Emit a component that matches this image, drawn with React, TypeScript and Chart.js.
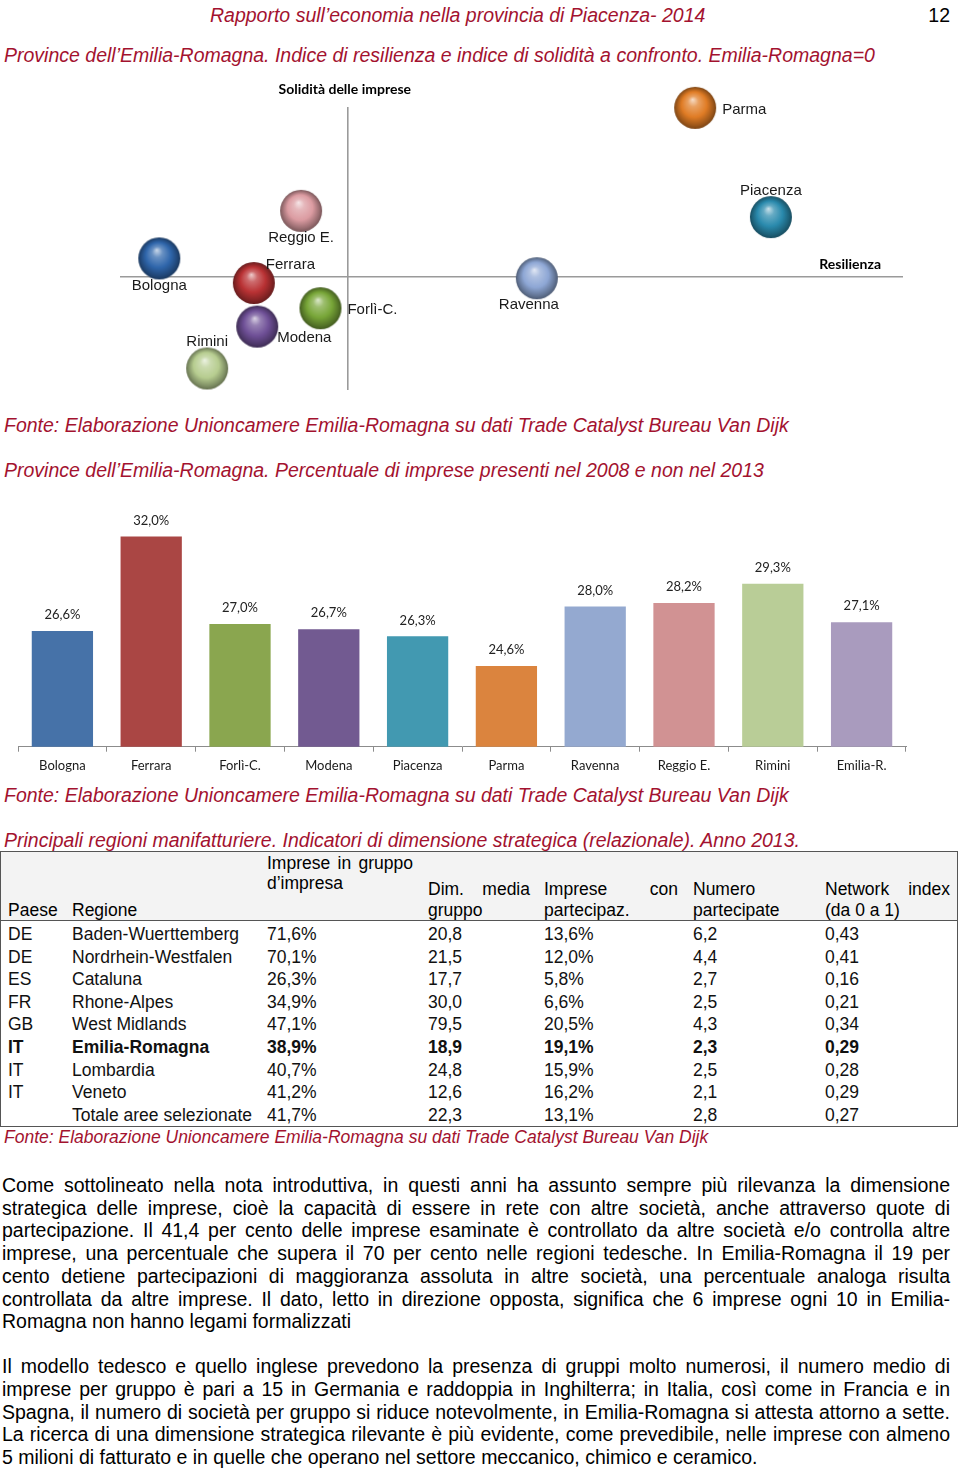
import React, { useEffect, useRef } from 'react';
import { Chart, registerables } from 'chart.js';

Chart.register(...registerables);

// ---------- Scatter (bubble) chart data ----------
const provinces = ['Bologna', 'Reggio E.', 'Ferrara', 'Forlì-C.', 'Modena', 'Rimini', 'Ravenna', 'Parma', 'Piacenza'];
const resilienza = [-3.31, -0.82, -1.65, -0.48, -1.59, -2.47, 3.32, 6.1, 7.43];
const solidita = [0.65, 2.33, -0.22, -1.11, -1.76, -3.24, -0.05, 5.97, 2.11];
const sphereColors = ['#2f66ab', '#dc9ca2', '#b93234', '#78a638', '#6f5097', '#b7cd90', '#8ea7d5', '#e07c25', '#2a8aad'];
const labelPlacement = ['below', 'below', 'above-right', 'right', 'below-right', 'above', 'below', 'right', 'above'];

// ---------- Bar chart data ----------
const barCategories = ['Bologna', 'Ferrara', 'Forlì-C.', 'Modena', 'Piacenza', 'Parma', 'Ravenna', 'Reggio E.', 'Rimini', 'Emilia-R.'];
const barValues = [26.6, 32.0, 27.0, 26.7, 26.3, 24.6, 28.0, 28.2, 29.3, 27.1];
const barColors = ['#4672a8', '#aa4644', '#8aa64f', '#725a91', '#4299b1', '#db843e', '#94a9d0', '#d19293', '#b9cd97', '#a99bbe'];

// ---------- Table data ----------
const tablePaese = ['DE', 'DE', 'ES', 'FR', 'GB', 'IT', 'IT', 'IT', ''];
const tableRegione = ['Baden-Wuerttemberg', 'Nordrhein-Westfalen', 'Cataluna', 'Rhone-Alpes', 'West Midlands', 'Emilia-Romagna', 'Lombardia', 'Veneto', 'Totale aree selezionate'];
const tableGruppo = ['71,6%', '70,1%', '26,3%', '34,9%', '47,1%', '38,9%', '40,7%', '41,2%', '41,7%'];
const tableDim = ['20,8', '21,5', '17,7', '30,0', '79,5', '18,9', '24,8', '12,6', '22,3'];
const tablePartecipaz = ['13,6%', '12,0%', '5,8%', '6,6%', '20,5%', '19,1%', '15,9%', '16,2%', '13,1%'];
const tableNumero = ['6,2', '4,4', '2,7', '2,5', '4,3', '2,3', '2,5', '2,1', '2,8'];
const tableNetwork = ['0,43', '0,41', '0,16', '0,21', '0,34', '0,29', '0,28', '0,29', '0,27'];
const boldRow = 5;

// ---------- Text ----------
const para1 = [
  'Come sottolineato nella nota introduttiva, in questi anni ha assunto sempre più rilevanza la dimensione',
  'strategica delle imprese, cioè la capacità di essere in rete con altre società, anche attraverso quote di',
  'partecipazione. Il 41,4 per cento delle imprese esaminate è controllato da altre società e/o controlla altre',
  'imprese, una percentuale che supera il 70 per cento nelle regioni tedesche. In Emilia-Romagna il 19 per',
  'cento detiene partecipazioni di maggioranza assoluta in altre società, una percentuale analoga risulta',
  'controllata da altre imprese. Il dato, letto in direzione opposta, significa che 6 imprese ogni 10 in Emilia-',
  'Romagna non hanno legami formalizzati',
];
const para2 = [
  'Il modello tedesco e quello inglese prevedono la presenza di gruppi molto numerosi, il numero medio di',
  'imprese per gruppo è pari a 15 in Germania e raddoppia in Inghilterra; in Italia, così come in Francia e in',
  'Spagna, il numero di società per gruppo si riduce notevolmente, in Emilia-Romagna si attesta attorno a sette.',
  'La ricerca di una dimensione strategica rilevante è più evidente, come prevedibile, nelle imprese con almeno',
  '5 milioni di fatturato e in quelle che operano nel settore meccanico, chimico e ceramico.',
];

const RED = '#a3122f';
const SANS = '"Liberation Sans", Arial, Helvetica, sans-serif';
const CAL = 'Lato, "Open Sans", sans-serif';

function shade(hex: string, f: number): string {
  const n = parseInt(hex.slice(1), 16);
  let r = (n >> 16) & 255, g = (n >> 8) & 255, b = n & 255;
  if (f >= 0) {
    r = r + (255 - r) * f; g = g + (255 - g) * f; b = b + (255 - b) * f;
  } else {
    r = r * (1 + f); g = g * (1 + f); b = b * (1 + f);
  }
  return `rgb(${Math.round(r)},${Math.round(g)},${Math.round(b)})`;
}

function makeSphere(color: string, r: number): HTMLCanvasElement {
  const c = document.createElement('canvas');
  const size = Math.ceil(r * 2 + 2);
  c.width = size; c.height = size;
  const ctx = c.getContext('2d')!;
  const cx = size / 2, cy = size / 2;
  const g = ctx.createRadialGradient(cx - 0.12 * r, cy - 0.4 * r, 0, cx, cy, r);
  g.addColorStop(0, shade(color, 0.75));
  g.addColorStop(0.25, shade(color, 0.28));
  g.addColorStop(0.6, color);
  g.addColorStop(0.88, shade(color, -0.3));
  g.addColorStop(1, shade(color, -0.45));
  ctx.fillStyle = g;
  ctx.beginPath();
  ctx.arc(cx, cy, r, 0, Math.PI * 2);
  ctx.fill();
  return c;
}

type TP = {
  x: number; y: number; w?: number; size?: number; italic?: boolean; bold?: boolean;
  color?: string; align?: 'left' | 'center' | 'right'; justify?: boolean; lh?: number; children: React.ReactNode;
};
const T = ({ x, y, w, size = 19.5, italic, bold, color = '#000', align = 'left', justify, lh = 22, children }: TP) => (
  <div
    style={{
      position: 'absolute', left: x, top: y - lh / 2, width: w, height: lh, lineHeight: lh + 'px',
      fontSize: size, fontFamily: SANS, fontStyle: italic ? 'italic' : 'normal', fontWeight: bold ? 'bold' : 'normal',
      color, whiteSpace: 'nowrap', textAlign: justify ? 'justify' : align,
      textAlignLast: justify ? 'justify' : undefined,
    } as React.CSSProperties}
  >
    {children}
  </div>
);

function ScatterChart() {
  const ref = useRef<HTMLCanvasElement>(null);
  useEffect(() => {
    const spheres = sphereColors.map((c) => makeSphere(c, 21));
    const labelsPlugin = {
      id: 'sphereLabels',
      afterDatasetsDraw(chart: any) {
        const ctx = chart.ctx;
        const meta = chart.getDatasetMeta(0);
        ctx.save();
        ctx.font = `15px ${SANS}`;
        ctx.fillStyle = '#1a1a1a';
        ctx.textBaseline = 'middle';
        meta.data.forEach((pt: any, i: number) => {
          let dx = 0, dy = 0, align: CanvasTextAlign = 'center';
          switch (labelPlacement[i]) {
            case 'below': dy = 27; break;
            case 'above': dy = -26.5; break;
            case 'right': dx = 27; dy = 2; align = 'left'; break;
            case 'above-right': dx = 12; dy = -18; align = 'left'; break;
            case 'below-right': dx = 20; dy = 11; align = 'left'; break;
          }
          if (provinces[i] === 'Ravenna') dx = -8;
          ctx.textAlign = align;
          ctx.fillText(provinces[i], pt.x + dx, pt.y + dy);
        });
        const xs = chart.scales.x, ys = chart.scales.y;
        ctx.fillStyle = '#000';
        ctx.font = `bold 14px ${CAL}`;
        ctx.textAlign = 'center';
        ctx.fillText('Solidità delle imprese', xs.getPixelForValue(0) - 3, ys.top - 18);
        ctx.textAlign = 'right';
        ctx.fillText('Resilienza', xs.right - 22, ys.getPixelForValue(0) - 12);
        ctx.restore();
      },
    };
    const zeroLine = (c: any) => (c.tick && c.tick.value === 0 ? '#9a9a9a' : 'rgba(0,0,0,0)');
    const chart = new Chart(ref.current!, {
      type: 'scatter',
      data: {
        datasets: [{
          data: provinces.map((_, i) => ({ x: resilienza[i], y: solidita[i] })),
          pointStyle: spheres as any,
          pointRadius: 21,
          clip: false as any,
        }],
      },
      options: {
        animation: false,
        responsive: false,
        layout: { autoPadding: false, padding: { left: 120, right: 57, top: 37, bottom: 10 } },
        plugins: { legend: { display: false }, tooltip: { enabled: false } },
        scales: {
          x: {
            type: 'linear', min: -4, max: 9.75,
            ticks: { display: false, stepSize: 1 },
            grid: { drawTicks: false, color: zeroLine, lineWidth: 1.6 },
            border: { display: false },
            afterFit: (s: any) => { s.height = 0; },
          },
          y: {
            type: 'linear', min: -4, max: 6,
            ticks: { display: false, stepSize: 1 },
            grid: { drawTicks: false, color: zeroLine, lineWidth: 1.6 },
            border: { display: false },
            afterFit: (s: any) => { s.width = 0; },
          },
        },
      } as any,
      plugins: [labelsPlugin],
    });
    return () => chart.destroy();
  }, []);
  return <canvas ref={ref} width={960} height={330} style={{ position: 'absolute', left: 0, top: 70 }} />;
}

function BarChart() {
  const ref = useRef<HTMLCanvasElement>(null);
  useEffect(() => {
    const valuePlugin = {
      id: 'barValues',
      afterDatasetsDraw(chart: any) {
        const ctx = chart.ctx;
        const meta = chart.getDatasetMeta(0);
        ctx.save();
        ctx.font = `13px ${CAL}`;
        ctx.fillStyle = '#222';
        ctx.textAlign = 'center';
        ctx.textBaseline = 'middle';
        meta.data.forEach((bar: any, i: number) => {
          ctx.fillText(barValues[i].toFixed(1).replace('.', ',') + '%', bar.x, bar.y - 16);
        });
        ctx.restore();
      },
    };
    const chart = new Chart(ref.current!, {
      type: 'bar',
      data: {
        labels: barCategories,
        datasets: [{
          data: barValues,
          backgroundColor: barColors,
          categoryPercentage: 1,
          barPercentage: 0.69,
        }],
      },
      options: {
        animation: false,
        responsive: false,
        layout: { autoPadding: false, padding: { left: 18, right: 54, top: 11.4, bottom: 8.3 } },
        plugins: { legend: { display: false }, tooltip: { enabled: false } },
        scales: {
          x: {
            grid: { offset: true, drawOnChartArea: false, drawTicks: true, tickLength: 5, color: '#8c8c8c' },
            border: { display: true, color: '#8c8c8c', width: 1 },
            ticks: { font: { family: CAL, size: 13 }, color: '#1a1a1a', padding: 6, maxRotation: 0, autoSkip: false },
            afterFit: (s: any) => { s.height = 25; },
          },
          y: { display: false, min: 20, max: 34 },
        },
      } as any,
      plugins: [valuePlugin],
    });
    return () => chart.destroy();
  }, []);
  return <canvas ref={ref} width={960} height={290} style={{ position: 'absolute', left: 0, top: 490 }} />;
}

function DataTable() {
  const colX = [8, 72, 267, 428, 544, 693, 825];
  const rowY0 = 934;
  const rowStep = 22.6;
  const cols = [tablePaese, tableRegione, tableGruppo, tableDim, tablePartecipaz, tableNumero, tableNetwork];
  const fs = 17.5;
  return (
    <>
      <div style={{ position: 'absolute', left: 1, top: 852, width: 956, height: 68, background: '#f3f3f3' }} />
      <div style={{ position: 'absolute', left: 0, top: 851, width: 956, height: 274, border: '1.5px solid #555', boxSizing: 'content-box' }} />
      <div style={{ position: 'absolute', left: 1, top: 919.5, width: 956, height: 0, borderTop: '1.5px solid #555' }} />
      <T x={267} y={863} w={146} size={fs} justify>Imprese in gruppo</T>
      <T x={267} y={883} size={fs}>d’impresa</T>
      <T x={428} y={889} w={102} size={fs} justify>Dim. media</T>
      <T x={544} y={889} w={134} size={fs} justify>Imprese con</T>
      <T x={693} y={889} size={fs}>Numero</T>
      <T x={825} y={889} w={125} size={fs} justify>Network index</T>
      <T x={8} y={910} size={fs}>Paese</T>
      <T x={72} y={910} size={fs}>Regione</T>
      <T x={428} y={910} size={fs}>gruppo</T>
      <T x={544} y={910} size={fs}>partecipaz.</T>
      <T x={693} y={910} size={fs}>partecipate</T>
      <T x={825} y={910} size={fs}>(da 0 a 1)</T>
      {tableRegione.map((_, r) =>
        cols.map((col, c) => (
          <T key={`${r}-${c}`} x={colX[c]} y={rowY0 + r * rowStep} size={fs} bold={r === boldRow} color="#111">
            {col[r]}
          </T>
        ))
      )}
    </>
  );
}

export default function App() {
  return (
    <div style={{ position: 'absolute', left: 0, top: 0, width: 960, height: 1471, background: '#fff', overflow: 'hidden' }}>
      <T x={210} y={15} italic color={RED}>Rapporto sull’economia nella provincia di Piacenza- 2014</T>
      <T x={900} y={15} w={50} align="right">12</T>
      <T x={4} y={55} italic color={RED}>Province dell’Emilia-Romagna. Indice di resilienza e indice di solidità a confronto. Emilia-Romagna=0</T>
      <ScatterChart />
      <T x={4} y={425} italic color={RED}>Fonte: Elaborazione Unioncamere Emilia-Romagna su dati Trade Catalyst Bureau Van Dijk</T>
      <T x={4} y={470} italic color={RED}>Province dell’Emilia-Romagna. Percentuale di imprese presenti nel 2008 e non nel 2013</T>
      <BarChart />
      <T x={4} y={795} italic color={RED}>Fonte: Elaborazione Unioncamere Emilia-Romagna su dati Trade Catalyst Bureau Van Dijk</T>
      <T x={4} y={840} italic color={RED}>Principali regioni manifatturiere. Indicatori di dimensione strategica (relazionale). Anno 2013.</T>
      <DataTable />
      <T x={4} y={1137} size={17.5} italic color={RED}>Fonte: Elaborazione Unioncamere Emilia-Romagna su dati Trade Catalyst Bureau Van Dijk</T>
      {para1.map((line, i) => (
        <T key={'p1' + i} x={2} y={1185 + i * 22.7} w={948} justify={i < para1.length - 1}>{line}</T>
      ))}
      {para2.map((line, i) => (
        <T key={'p2' + i} x={2} y={1366 + i * 22.75} w={948} justify={i < para2.length - 1}>{line}</T>
      ))}
    </div>
  );
}
